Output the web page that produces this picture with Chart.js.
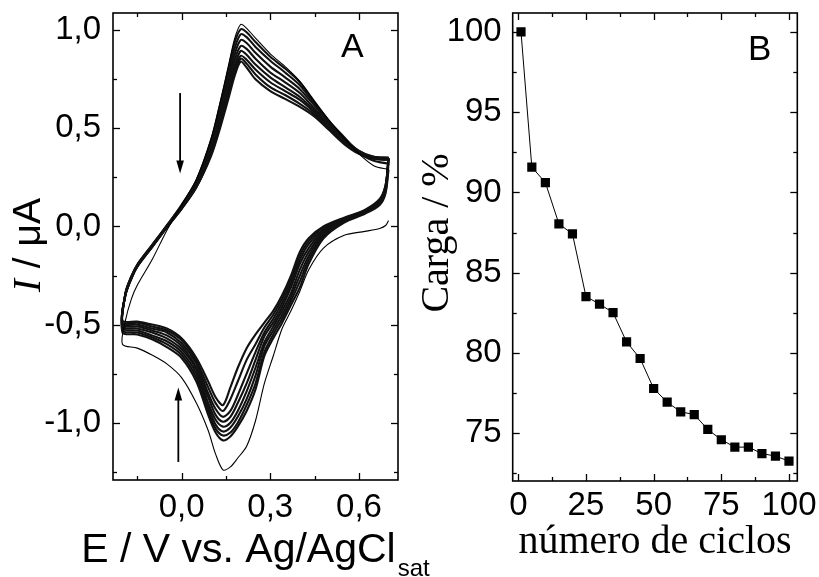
<!DOCTYPE html>
<html><head><meta charset="utf-8">
<script src="https://cdn.jsdelivr.net/npm/chart.js@4/dist/chart.umd.min.js"></script>
<style>
html,body{margin:0;padding:0;background:#fff;}
#wrap{position:relative;width:819px;height:577px;overflow:hidden;background:#fff;}
#ca{position:absolute;left:0;top:0;}
#cb{position:absolute;left:410px;top:0;}
</style></head><body>
<div id="wrap"><canvas id="ca" width="440" height="577"></canvas><canvas id="cb" width="409" height="577"></canvas></div>
<script>
// ---------- Panel A : cyclic voltammograms (E / V, I / uA) ----------
const potentialCathodic = [0.70, 0.69, 0.67, 0.62, 0.55, 0.48, 0.43, 0.40, 0.37, 0.34, 0.31, 0.28, 0.25, 0.22, 0.19, 0.165, 0.14, 0.115, 0.09, 0.05, 0.00, -0.05, -0.10, -0.15, -0.20];
const potentialAnodic = [-0.19, -0.17, -0.15, -0.10, -0.05, 0.00, 0.05, 0.10, 0.13, 0.16, 0.18, 0.20, 0.22, 0.25, 0.30, 0.35, 0.40, 0.45, 0.50, 0.55, 0.60, 0.65, 0.70];

const cycle1Cathodic = [0.03, 0.005, -0.01, -0.025, -0.045, -0.11, -0.22, -0.33, -0.43, -0.52, -0.66, -0.80, -0.99, -1.12, -1.18, -1.225, -1.24, -1.16, -1.04, -0.90, -0.77, -0.70, -0.655, -0.62, -0.60];
const cycle1Anodic = [-0.48, -0.37, -0.30, -0.17, -0.02, 0.11, 0.24, 0.45, 0.63, 0.83, 0.96, 1.03, 1.01, 0.96, 0.88, 0.815, 0.74, 0.635, 0.54, 0.45, 0.37, 0.31, 0.29];

const band1Cathodic = [0.29, 0.17, 0.11, 0.065, 0.02, -0.06, -0.19, -0.31, -0.40, -0.49, -0.57, -0.66, -0.83, -0.94, -1.02, -1.07, -1.09, -1.05, -0.96, -0.79, -0.67, -0.615, -0.575, -0.55, -0.54];
const band1Anodic = [-0.34, -0.255, -0.195, -0.095, 0.005, 0.11, 0.235, 0.44, 0.62, 0.81, 0.94, 1.005, 0.99, 0.94, 0.865, 0.805, 0.735, 0.635, 0.535, 0.455, 0.375, 0.335, 0.32];
const band2Cathodic = [0.32, 0.18, 0.115, 0.07, 0.025, -0.05, -0.17, -0.28, -0.38, -0.47, -0.55, -0.64, -0.80, -0.91, -1.00, -1.05, -1.065, -1.03, -0.94, -0.77, -0.655, -0.60, -0.565, -0.54, -0.53];
const band2Anodic = [-0.34, -0.255, -0.195, -0.095, 0.005, 0.105, 0.23, 0.43, 0.60, 0.79, 0.91, 0.98, 0.965, 0.915, 0.845, 0.785, 0.72, 0.625, 0.53, 0.45, 0.385, 0.35, 0.345];
const band3Cathodic = [0.345, 0.19, 0.12, 0.07, 0.03, -0.04, -0.15, -0.25, -0.36, -0.45, -0.53, -0.61, -0.76, -0.88, -0.97, -1.025, -1.045, -1.01, -0.92, -0.75, -0.64, -0.585, -0.555, -0.53, -0.52];
const band3Anodic = [-0.345, -0.26, -0.20, -0.10, 0.00, 0.10, 0.225, 0.41, 0.58, 0.76, 0.88, 0.95, 0.935, 0.885, 0.815, 0.76, 0.70, 0.615, 0.525, 0.445, 0.385, 0.355, 0.35];
const band4Cathodic = [0.35, 0.19, 0.125, 0.075, 0.03, -0.03, -0.13, -0.22, -0.34, -0.43, -0.51, -0.59, -0.72, -0.84, -0.94, -1.00, -1.02, -0.985, -0.90, -0.73, -0.625, -0.57, -0.54, -0.52, -0.51];
const band4Anodic = [-0.345, -0.26, -0.20, -0.10, 0.00, 0.10, 0.22, 0.40, 0.56, 0.73, 0.85, 0.92, 0.905, 0.855, 0.785, 0.735, 0.68, 0.60, 0.515, 0.44, 0.38, 0.355, 0.35];
const band5Cathodic = [0.35, 0.20, 0.13, 0.075, 0.035, -0.02, -0.11, -0.19, -0.31, -0.41, -0.49, -0.56, -0.68, -0.80, -0.90, -0.97, -0.995, -0.96, -0.87, -0.72, -0.61, -0.555, -0.53, -0.51, -0.50];
const band5Anodic = [-0.345, -0.26, -0.20, -0.10, 0.00, 0.095, 0.21, 0.39, 0.545, 0.71, 0.82, 0.895, 0.875, 0.825, 0.76, 0.71, 0.66, 0.59, 0.51, 0.435, 0.38, 0.35, 0.35];
const band6Cathodic = [0.35, 0.20, 0.13, 0.08, 0.04, -0.015, -0.09, -0.17, -0.29, -0.39, -0.47, -0.54, -0.64, -0.75, -0.86, -0.94, -0.97, -0.93, -0.85, -0.70, -0.595, -0.54, -0.52, -0.50, -0.495];
const band6Anodic = [-0.35, -0.265, -0.205, -0.105, -0.005, 0.095, 0.205, 0.38, 0.53, 0.69, 0.80, 0.87, 0.85, 0.80, 0.735, 0.69, 0.645, 0.58, 0.50, 0.43, 0.375, 0.35, 0.345];
const band7Cathodic = [0.345, 0.21, 0.135, 0.08, 0.04, -0.005, -0.075, -0.15, -0.27, -0.37, -0.45, -0.515, -0.60, -0.68, -0.79, -0.88, -0.94, -0.90, -0.82, -0.685, -0.58, -0.53, -0.51, -0.49, -0.49];
const band7Anodic = [-0.35, -0.265, -0.205, -0.105, -0.005, 0.09, 0.20, 0.37, 0.515, 0.675, 0.785, 0.855, 0.83, 0.775, 0.71, 0.67, 0.625, 0.57, 0.495, 0.425, 0.375, 0.345, 0.34];
const band8Cathodic = [0.34, 0.21, 0.14, 0.085, 0.045, 0.00, -0.06, -0.13, -0.25, -0.35, -0.43, -0.49, -0.55, -0.62, -0.72, -0.82, -0.91, -0.87, -0.79, -0.67, -0.57, -0.52, -0.50, -0.485, -0.48];
const band8Anodic = [-0.35, -0.265, -0.205, -0.105, -0.005, 0.09, 0.20, 0.36, 0.50, 0.66, 0.77, 0.84, 0.81, 0.75, 0.69, 0.65, 0.61, 0.56, 0.49, 0.42, 0.37, 0.345, 0.34];

const xMajorA = [0.0, 0.3, 0.6];
const xMinorA = [-0.15, 0.15, 0.45];
const yMajorA = [-1.0, -0.5, 0.0, 0.5, 1.0];
const yMinorA = [-1.25, -0.75, -0.25, 0.25, 0.75];
const arrowDown = {x: -0.005, from: 0.68, to: 0.27};
const arrowUp = {x: -0.011, from: -1.20, to: -0.82};

// ---------- Panel B : charge vs number of cycles ----------
const cycleNumbers = [1, 5, 10, 15, 20, 25, 30, 35, 40, 45, 50, 55, 60, 65, 70, 75, 80, 85, 90, 95, 100];
const chargePercent = [100, 91.58, 90.62, 88.05, 87.42, 83.52, 83.05, 82.52, 80.69, 79.66, 77.79, 76.94, 76.34, 76.17, 75.24, 74.6, 74.14, 74.14, 73.74, 73.58, 73.27];
const xMajorB = [0, 25, 50, 75, 100];
const xMinorB = [12.5, 37.5, 62.5, 87.5];
const yMajorB = [75, 80, 85, 90, 95, 100];
const yMinorB = [72.5, 77.5, 82.5, 87.5, 92.5, 97.5];

const SANS = "'Liberation Sans', Arial, sans-serif";
const SERIF = "'Liberation Serif', 'Times New Roman', serif";

function cyclePoints(cat, an) {
  const pts = potentialCathodic.map((v, i) => ({x: v, y: cat[i]}));
  potentialAnodic.forEach((v, i) => pts.push({x: v, y: an[i]}));
  return pts;
}

const frameTicks = {
  id: 'frameTicks',
  afterDraw(chart, args, o) {
    const {ctx, chartArea: {left, right, top, bottom}, scales: {x, y}} = chart;
    ctx.save();
    ctx.strokeStyle = '#000';
    const seg = (x1, y1, x2, y2) => { ctx.beginPath(); ctx.moveTo(x1, y1); ctx.lineTo(x2, y2); ctx.stroke(); };
    ctx.lineWidth = 1.3;
    o.xMajor.forEach(v => { const p = Math.round(x.getPixelForValue(v)) + 0.5; seg(p, bottom, p, bottom - 7); seg(p, top, p, top + 7); });
    o.xMinor.forEach(v => { const p = Math.round(x.getPixelForValue(v)) + 0.5; seg(p, bottom, p, bottom - 4); seg(p, top, p, top + 4); });
    o.yMajor.forEach(v => { const p = Math.round(y.getPixelForValue(v)) + 0.5; seg(left, p, left + 7, p); seg(right, p, right - 7, p); });
    o.yMinor.forEach(v => { const p = Math.round(y.getPixelForValue(v)) + 0.5; seg(left, p, left + 4, p); seg(right, p, right - 4, p); });
    ctx.lineWidth = 1.6;
    ctx.strokeRect(left, top, right - left, bottom - top);
    ctx.restore();
  }
};

const decoA = {
  id: 'decoA',
  afterDraw(chart) {
    const {ctx, scales: {x, y}} = chart;
    ctx.save();
    ctx.fillStyle = '#000'; ctx.strokeStyle = '#000';
    const arrow = (a) => {
      const px = x.getPixelForValue(a.x), y1 = y.getPixelForValue(a.from), y2 = y.getPixelForValue(a.to);
      const dir = Math.sign(y2 - y1);
      ctx.lineWidth = 1.8;
      ctx.beginPath(); ctx.moveTo(px, y1); ctx.lineTo(px, y2 - dir * 10); ctx.stroke();
      ctx.beginPath(); ctx.moveTo(px, y2); ctx.lineTo(px - 3.8, y2 - dir * 13); ctx.lineTo(px + 3.8, y2 - dir * 13); ctx.closePath(); ctx.fill();
    };
    arrow(arrowDown); arrow(arrowUp);
    ctx.font = '34px ' + SANS; ctx.textAlign = 'left'; ctx.textBaseline = 'alphabetic';
    ctx.fillText('A', 341, 57);
    // x title
    ctx.font = '41px ' + SANS;
    const main = 'E / V vs. Ag/AgCl';
    const wMain = ctx.measureText(main).width;
    ctx.font = '24px ' + SANS;
    const wSub = ctx.measureText('sat').width;
    const cx = (chart.chartArea.left + chart.chartArea.right) / 2;
    const x0 = cx - (wMain + wSub + 2) / 2;
    ctx.font = '41px ' + SANS;
    ctx.fillText(main, x0, 562);
    ctx.font = '24px ' + SANS;
    ctx.fillText('sat', x0 + wMain + 2, 576);
    // y title (rotated)
    ctx.translate(40, 245); ctx.rotate(-Math.PI / 2);
    ctx.font = 'italic 39px ' + SERIF;
    const wI = ctx.measureText('I').width;
    ctx.font = '39px ' + SANS;
    const wRest = ctx.measureText(' / \u03bcA').width;
    const s = -(wI + wRest) / 2;
    ctx.font = 'italic 39px ' + SERIF;
    ctx.fillText('I', s, 0);
    ctx.font = '39px ' + SANS;
    ctx.fillText(' / \u03bcA', s + wI, 0);
    ctx.restore();
  }
};

const decoB = {
  id: 'decoB',
  afterDraw(chart) {
    const {ctx, chartArea} = chart;
    ctx.save(); ctx.fillStyle = '#000';
    ctx.font = '35px ' + SANS; ctx.textAlign = 'left'; ctx.textBaseline = 'alphabetic';
    ctx.fillText('B', 338, 60);
    ctx.font = '40px ' + SERIF; ctx.textAlign = 'center';
    ctx.fillText('n\u00famero de ciclos', (chartArea.left + chartArea.right) / 2, 553);
    ctx.translate(38, 233); ctx.rotate(-Math.PI / 2);
    ctx.fillText('Carga / %', 0, 0);
    ctx.restore();
  }
};

const bandCycles = [
  [band1Cathodic, band1Anodic], [band2Cathodic, band2Anodic], [band3Cathodic, band3Anodic], [band4Cathodic, band4Anodic],
  [band5Cathodic, band5Anodic], [band6Cathodic, band6Anodic], [band7Cathodic, band7Anodic], [band8Cathodic, band8Anodic]
];
const datasetsA = [{data: cyclePoints(cycle1Cathodic, cycle1Anodic), borderColor: '#000', borderWidth: 1.1, showLine: true, pointRadius: 0, tension: 0.3}];
bandCycles.forEach(c => datasetsA.push({data: cyclePoints(c[0], c[1]), borderColor: '#111', borderWidth: 2.1, showLine: true, pointRadius: 0, tension: 0.3}));

const fmt1 = v => (Math.abs(v) < 1e-9 ? 0 : v).toFixed(1).replace('.', ',');

new Chart(document.getElementById('ca'), {
  type: 'scatter',
  data: {datasets: datasetsA},
  options: {
    responsive: false, animation: false, devicePixelRatio: 1,
    layout: {padding: {left: 0, top: 13, right: 42, bottom: 0}},
    plugins: {legend: {display: false}, tooltip: {enabled: false},
      frameTicks: {xMajor: xMajorA, xMinor: xMinorA, yMajor: yMajorA, yMinor: yMinorA}},
    scales: {
      x: {type: 'linear', min: -0.232, max: 0.732,
        afterBuildTicks: s => { s.ticks = xMajorA.map(v => ({value: v})); },
        afterFit: s => { s.height = 97; s.paddingLeft = 0; s.paddingRight = 0; },
        grid: {display: false, drawTicks: false}, border: {display: false},
        ticks: {color: '#000', font: {family: SANS, size: 33}, padding: 8, maxRotation: 0, autoSkip: false, callback: v => fmt1(v)}},
      y: {type: 'linear', min: -1.292, max: 1.088,
        afterBuildTicks: s => { s.ticks = yMajorA.map(v => ({value: v})); },
        afterFit: s => { s.width = 113; s.paddingTop = 0; s.paddingBottom = 0; },
        grid: {display: false, drawTicks: false}, border: {display: false},
        ticks: {color: '#000', font: {family: SANS, size: 33}, padding: 12, autoSkip: false, callback: v => fmt1(v)}}
    }
  },
  plugins: [frameTicks, decoA]
});

new Chart(document.getElementById('cb'), {
  type: 'scatter',
  data: {datasets: [{
    data: cycleNumbers.map((c, i) => ({x: c, y: chargePercent[i]})),
    showLine: true, borderColor: '#000', borderWidth: 1, tension: 0,
    pointStyle: 'rect', pointRadius: 6.5, pointBackgroundColor: '#000', pointBorderColor: '#000', pointBorderWidth: 0
  }]},
  options: {
    responsive: false, animation: false, devicePixelRatio: 1,
    layout: {padding: {left: 0, top: 13, right: 21.7, bottom: 0}},
    plugins: {legend: {display: false}, tooltip: {enabled: false},
      frameTicks: {xMajor: xMajorB, xMinor: xMinorB, yMajor: yMajorB, yMinor: yMinorB}},
    scales: {
      x: {type: 'linear', min: -2.07, max: 103.07,
        afterBuildTicks: s => { s.ticks = xMajorB.map(v => ({value: v})); },
        afterFit: s => { s.height = 96; s.paddingLeft = 0; s.paddingRight = 0; },
        grid: {display: false, drawTicks: false}, border: {display: false},
        ticks: {color: '#000', font: {family: SANS, size: 33}, padding: 5, maxRotation: 0, autoSkip: false, callback: v => String(v)}},
      y: {type: 'linear', min: 72.03, max: 101.18,
        afterBuildTicks: s => { s.ticks = yMajorB.map(v => ({value: v})); },
        afterFit: s => { s.width = 102.7; s.paddingTop = 0; s.paddingBottom = 0; },
        grid: {display: false, drawTicks: false}, border: {display: false},
        ticks: {color: '#000', font: {family: SANS, size: 33}, padding: 11, autoSkip: false, callback: v => String(v)}}
    }
  },
  plugins: [frameTicks, decoB]
});
</script>
</body></html>
